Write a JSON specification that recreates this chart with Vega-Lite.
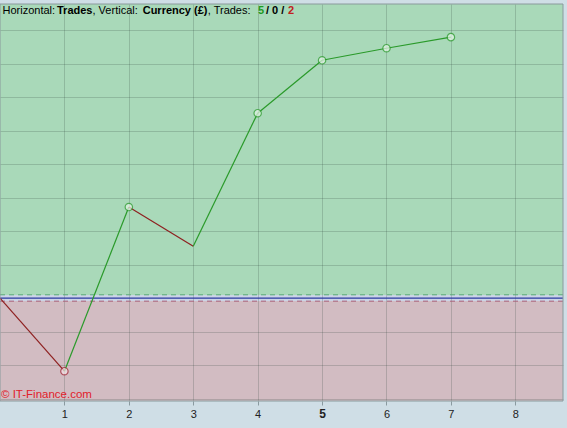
{
  "$schema": "https://vega.github.io/schema/vega-lite/v6.json",
  "width": 563,
  "height": 397,
  "autosize": {"type": "none"},
  "padding": {"left": 0, "top": 4, "right": 4, "bottom": 27},
  "background": "#cfdee6",
  "config": {
    "view": {
      "stroke": null,
      "fill": {"gradient": "linear", "x1": 0, "y1": 0, "x2": 0, "y2": 1,
        "stops": [
          {"offset": 0, "color": "#a9d9b9"},
          {"offset": 0.7325, "color": "#a9d9b9"},
          {"offset": 0.7325, "color": "#cbd4e6"},
          {"offset": 0.7485, "color": "#cbd4e6"},
          {"offset": 0.7485, "color": "#d2bcc2"},
          {"offset": 1, "color": "#d2bcc2"}
        ]}
    },
    "font": "Liberation Sans"
  },
  "datasets": {
    "equity": [
      {"trade": 0, "balance": 0, "marker": "none"},
      {"trade": 1, "balance": -218, "marker": "low"},
      {"trade": 2, "balance": 272, "marker": "high"},
      {"trade": 3, "balance": 155, "marker": "none"},
      {"trade": 4, "balance": 552, "marker": "high"},
      {"trade": 5, "balance": 710, "marker": "high"},
      {"trade": 6, "balance": 746, "marker": "high"},
      {"trade": 7, "balance": 779, "marker": "high"}
    ],
    "one": [{}]
  },
  "layer": [
    {
      "data": {"name": "one"},
      "mark": {"type": "rule", "color": "#5aa878", "strokeDash": [5, 4], "strokeWidth": 1},
      "encoding": {
        "x": {"datum": 0, "type": "quantitative",
          "scale": {"domain": [0, 8.74], "nice": false, "zero": false},
          "axis": {"title": null, "values": [1, 2, 3, 4, 5, 6, 7, 8], "tickCount": 20, "format": "d", "grid": true,
            "gridColor": "#304a40", "gridOpacity": 0.22, "domain": false,
            "tickColor": "#8a9aa0", "tickSize": 4, "labelPadding": 3,
            "labelFontSize": {"condition": {"test": "datum.value == 5", "value": 12}, "value": 11},
            "labelFontWeight": {"condition": {"test": "datum.value == 5", "value": "bold"}, "value": "normal"},
            "labelColor": "#222222", "labelFont": "Liberation Sans"}},
        "x2": {"datum": 8.74},
        "y": {"datum": 10, "type": "quantitative",
          "scale": {"domain": [-307, 878], "nice": false, "zero": false},
          "axis": {"title": null, "labels": false, "ticks": false, "domain": false,
            "values": [-300, -200, -100, 100, 200, 300, 400, 500, 600, 700, 800], "tickCount": 20,
            "grid": true, "gridColor": "#304a40", "gridOpacity": 0.22}}
      }
    },
    {
      "data": {"name": "one"},
      "mark": {"type": "rule", "color": "#a8607a", "strokeDash": [5, 4], "strokeWidth": 1},
      "encoding": {"y": {"datum": -9, "type": "quantitative"}}
    },
    {
      "data": {"name": "one"},
      "mark": {"type": "rule", "color": "#2a3aa0", "strokeWidth": 1.2},
      "encoding": {"y": {"datum": 0, "type": "quantitative"}}
    },
    {
      "data": {"name": "equity"},
      "transform": [
        {"window": [{"op": "lead", "field": "balance", "as": "next_balance"},
                    {"op": "lead", "field": "trade", "as": "next_trade"}]},
        {"filter": "datum.next_trade != null"}
      ],
      "mark": {"type": "rule", "strokeWidth": 1.2},
      "encoding": {
        "x": {"field": "trade", "type": "quantitative"},
        "x2": {"field": "next_trade"},
        "y": {"field": "balance", "type": "quantitative"},
        "y2": {"field": "next_balance"},
        "color": {"condition": {"test": "datum.next_balance >= datum.balance", "value": "#2a9a2a"}, "value": "#8e2020"}
      }
    },
    {
      "data": {"name": "equity"},
      "transform": [{"filter": "datum.marker != 'none'"}],
      "mark": {"type": "point", "shape": "circle", "filled": false, "size": 55, "strokeWidth": 1.2},
      "encoding": {
        "x": {"field": "trade", "type": "quantitative"},
        "y": {"field": "balance", "type": "quantitative"},
        "stroke": {"condition": {"test": "datum.marker == 'high'", "value": "#2a9a2a"}, "value": "#a02030"},
        "fill": {"condition": {"test": "datum.marker == 'high'", "value": "#e6f4e8"}, "value": "#f4e2e6"},
        "fillOpacity": {"value": 1}
      }
    },
    {
      "data": {"name": "one"},
      "mark": {"type": "text", "align": "left", "baseline": "middle", "fontSize": 11, "color": "#000000"},
      "encoding": {"x": {"datum": 0.039, "type": "quantitative"}, "y": {"datum": 857, "type": "quantitative"}, "text": {"value": "Horizontal:"}}
    },
    {
      "data": {"name": "one"},
      "mark": {"type": "text", "align": "left", "baseline": "middle", "fontSize": 11, "fontWeight": "bold", "color": "#000000"},
      "encoding": {"x": {"datum": 0.885, "type": "quantitative"}, "y": {"datum": 857, "type": "quantitative"}, "text": {"value": "Trades"}}
    },
    {
      "data": {"name": "one"},
      "mark": {"type": "text", "align": "left", "baseline": "middle", "fontSize": 11, "color": "#000000"},
      "encoding": {"x": {"datum": 1.436, "type": "quantitative"}, "y": {"datum": 857, "type": "quantitative"}, "text": {"value": ", Vertical:"}}
    },
    {
      "data": {"name": "one"},
      "mark": {"type": "text", "align": "left", "baseline": "middle", "fontSize": 11, "fontWeight": "bold", "color": "#000000"},
      "encoding": {"x": {"datum": 2.215, "type": "quantitative"}, "y": {"datum": 857, "type": "quantitative"}, "text": {"value": "Currency (£)"}}
    },
    {
      "data": {"name": "one"},
      "mark": {"type": "text", "align": "left", "baseline": "middle", "fontSize": 11, "color": "#000000"},
      "encoding": {"x": {"datum": 3.225, "type": "quantitative"}, "y": {"datum": 857, "type": "quantitative"}, "text": {"value": ", Trades:"}}
    },
    {
      "data": {"name": "one"},
      "mark": {"type": "text", "align": "left", "baseline": "middle", "fontSize": 11, "fontWeight": "bold", "color": "#1f9a1f"},
      "encoding": {"x": {"datum": 4.004, "type": "quantitative"}, "y": {"datum": 857, "type": "quantitative"}, "text": {"value": "5"}}
    },
    {
      "data": {"name": "one"},
      "mark": {"type": "text", "align": "left", "baseline": "middle", "fontSize": 11, "fontWeight": "bold", "color": "#000000"},
      "encoding": {"x": {"datum": 4.129, "type": "quantitative"}, "y": {"datum": 857, "type": "quantitative"}, "text": {"value": "/ 0 /"}}
    },
    {
      "data": {"name": "one"},
      "mark": {"type": "text", "align": "left", "baseline": "middle", "fontSize": 11, "fontWeight": "bold", "color": "#c02020"},
      "encoding": {"x": {"datum": 4.47, "type": "quantitative"}, "y": {"datum": 857, "type": "quantitative"}, "text": {"value": "2"}}
    },
    {
      "data": {"name": "one"},
      "mark": {"type": "text", "align": "left", "baseline": "middle", "fontSize": 11.5, "color": "#e0202a"},
      "encoding": {"x": {"datum": 0.015, "type": "quantitative"}, "y": {"datum": -288, "type": "quantitative"}, "text": {"value": "© IT-Finance.com"}}
    },
    {
      "data": {"name": "one"},
      "mark": {"type": "rect", "fill": null, "stroke": "#8a9a9c", "strokeWidth": 1},
      "encoding": {
        "x": {"datum": 0, "type": "quantitative"},
        "x2": {"datum": 8.74},
        "y": {"datum": 878, "type": "quantitative"},
        "y2": {"datum": -307}
      }
    }
  ]
}
